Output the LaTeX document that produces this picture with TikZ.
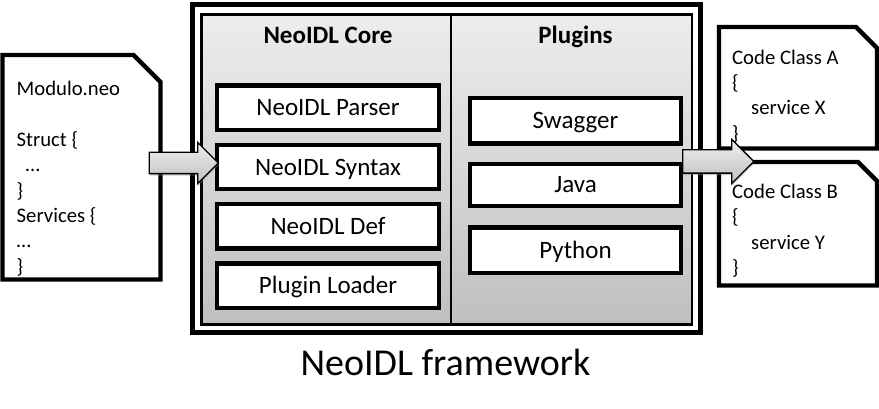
\documentclass[tikz,border=0pt]{standalone}
\usepackage{fontspec}
\setmainfont{Carlito}
\usetikzlibrary{positioning,shapes.arrows,shadows}

% outline of a page with a cut corner
\newcommand\pageedge[2]{\draw[page line] (#1.north west) -- ([xshift=-#2]#1.north east) -- ([yshift=-#2]#1.north east) -- (#1.south east) -- (#1.south west) -- cycle;}

\begin{document}
\begin{tikzpicture}[
  x=1pt, y=-1pt,
  block/.style={rectangle, draw, line width=4.3pt, fill=white, minimum width=222.5pt, minimum height=44.5pt, inner sep=0pt, text height=16pt, text depth=0pt, font=\fontsize{25}{30}\selectfont},
  plugin/.style={block, minimum width=211pt, minimum height=45.5pt},
  header/.style={font=\fontsize{25}{30}\selectfont\bfseries, inner sep=0pt, text height=16pt, text depth=0pt},
  page/.style={rectangle, minimum width=158pt, inner sep=0pt, outer sep=0pt},
  page line/.style={line width=4.3pt, fill=white},
  page text/.style={align=left, inner sep=0pt, font=\fontsize{20.7}{25.3}\selectfont},
  bigarrow/.style={single arrow, draw, line width=1.3pt, inner xsep=0pt, text height=0pt, text depth=0pt, top color=gray!12, bottom color=gray!50, drop shadow={opacity=0.4, shadow xshift=0.5pt, shadow yshift=-2pt}},
  node distance=59.3pt
]
\useasboundingbox (0,0) rectangle (879,409);

% framework
\node[draw, line width=5pt, minimum width=508pt, minimum height=327pt, inner sep=0pt] (frame) at (446,168.5) {};
\node[draw, line width=2.2pt, minimum width=490.5pt, minimum height=310pt, inner sep=0pt, top color=gray!14, bottom color=gray!50] (inner) at (446.75,169.5) {};
\draw[line width=2pt] (inner.north -| 451,0) -- (inner.south -| 451,0);

\node[block] (parser) at (328,107.75) {NeoIDL Parser};
\node[block, below of=parser] (syntax) {NeoIDL Syntax};
\node[block, below of=syntax] (def) {NeoIDL Def};
\node[block, below of=def] (loader) {Plugin Loader};
\node[header, above of=parser, node distance=71.75pt] (corehead) {NeoIDL Core};

\node[plugin] (swagger) at (575.5,120.75) {Swagger};
\node[plugin, below of=swagger, node distance=64pt, minimum height=42pt] (java) {Java};
\node[plugin, below of=java, node distance=65.5pt] (python) {Python};
\node[header, above of=swagger, node distance=84.75pt] (plughead) {Plugins};

% pages
\node[page, minimum height=224.5pt] (modpage) at (81.5,167.25) {};
\pageedge{modpage}{27pt}
\node[page text, below right=23pt and 14pt of modpage.north west] (modtext) {\strut Modulo.neo\\[25.3pt]Struct \{\\\hspace{9pt}…\\\}\\Services \{\\…\\\}};

\node[page, minimum height=121.5pt] (classa) at (798,87.75) {};
\pageedge{classa}{21pt}
\node[page text, below right=19.3pt and 13pt of classa.north west] (classatext) {\strut Code Class A\\\{\\\hspace{19pt}service X\\\}};

\node[page, minimum height=123.5pt] (classb) at (798,223.75) {};
\pageedge{classb}{19pt}
\node[page text, below right=18.6pt and 13pt of classb.north west] (classbtext) {\strut Code Class B\\\{\\\hspace{19pt}service Y\\\}};

% arrows
\node[bigarrow, inner ysep=10pt, minimum height=69pt, minimum width=40pt, single arrow head extend=10pt] (inarrow) at (178.5,163) {};
\node[bigarrow, inner ysep=11pt, minimum height=71pt, minimum width=43pt, single arrow head extend=10.5pt] (outarrow) at (712.5,161.5) {};

\node[font=\fontsize{38}{45}\selectfont, anchor=base, inner sep=0pt] (title) at (445.5,375.7) {NeoIDL framework};
\end{tikzpicture}
\end{document}
